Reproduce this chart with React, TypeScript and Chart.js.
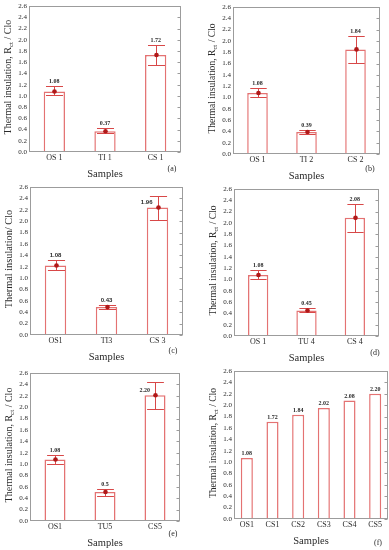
import React, { useEffect, useRef } from "react";
import { Chart, registerables } from "chart.js";
Chart.register(...registerables);

// ---------- data ----------
const yMax = 2.6;
const yStep = 0.2;

const catsA = ["OS 1", "TI 1", "CS 1"];
const valsA = [1.08, 0.37, 1.73];
const lowA = [1.01, 0.33, 1.55];
const highA = [1.17, 0.42, 1.91];
const textA = ["1.08", "0.37", "1.72"];

const catsB = ["OS 1", "TI 2", "CS 2"];
const valsB = [1.08, 0.39, 1.85];
const lowB = [1.01, 0.35, 1.61];
const highB = [1.16, 0.43, 2.09];
const textB = ["1.08", "0.39", "1.84"];

const catsC = ["OS1", "TI3", "CS 3"];
const valsC = [1.22, 0.49, 2.24];
const lowC = [1.14, 0.45, 2.02];
const highC = [1.32, 0.53, 2.44];
const textC = ["1.08", "0.43", "1.96"];

const catsD = ["OS 1", "TU 4", "CS 4"];
const valsD = [1.08, 0.45, 2.09];
const lowD = [1.0, 0.42, 1.84];
const highD = [1.16, 0.49, 2.33];
const textD = ["1.08", "0.45", "2.08"];

const catsE = ["OS1", "TU5", "CS5"];
const valsE = [1.08, 0.51, 2.21];
const lowE = [1.0, 0.44, 1.96];
const highE = [1.16, 0.57, 2.44];
const textE = ["1.08", "0.5", "2.20"];

const catsF = ["OS1", "CS1", "CS2", "CS3", "CS4", "CS5"];
const valsF = [1.07, 1.71, 1.83, 1.95, 2.08, 2.2];
const textF = ["1.08", "1.72", "1.84", "2.02", "2.08", "2.20"];

// ---------- styles ----------
const SERIF = "'Liberation Serif', 'DejaVu Serif', serif";
const SANS = "'Liberation Sans', Arial, sans-serif";
const BAR_EDGE = "#e47272";
const ERR = "#d84848";
const MARK = "#b01818";
const FRAME = "#9c9c9c";
const TXT = "#2a2a2a";

type Part = { t: string; sub?: boolean };
const titleR: Part[] = [{ t: "Thermal insulation, R" }, { t: "ct", sub: true }, { t: " / Clo" }];
const titleC: Part[] = [{ t: "Thermal insulation/ Clo" }];

type PanelCfg = {
  cats: string[];
  vals: number[];
  low?: number[];
  high?: number[];
  text: string[];
  canvas: [number, number, number, number];
  box: [number, number, number, number];
  title: Part[];
  titleSize: number;
  tag: string;
  tagOff: [number, number];
  labelFont: string;
  leftLabel: boolean[];
  barPct: number;
};

const panels: PanelCfg[] = [
  { cats: catsA, vals: valsA, low: lowA, high: highA, text: textA, canvas: [0, 0, 195, 186], box: [29, 6, 181, 152], title: titleR, titleSize: 10, tag: "(a)", tagOff: [-9, 17], labelFont: SERIF, leftLabel: [false, false, false], barPct: 0.42 },
  { cats: catsB, vals: valsB, low: lowB, high: highB, text: textB, canvas: [195, 0, 194, 186], box: [233, 7, 380, 154], title: titleR, titleSize: 9.6, tag: "(b)", tagOff: [-10, 15], labelFont: SERIF, leftLabel: [false, false, false], barPct: 0.42 },
  { cats: catsC, vals: valsC, low: lowC, high: highC, text: textC, canvas: [0, 180, 195, 188], box: [30, 187, 183, 335], title: titleC, titleSize: 10.3, tag: "(c)", tagOff: [-10, 16], labelFont: SANS, leftLabel: [false, false, true], barPct: 0.42 },
  { cats: catsD, vals: valsD, low: lowD, high: highD, text: textD, canvas: [195, 180, 194, 188], box: [234, 189, 379, 336], title: titleR, titleSize: 9.6, tag: "(d)", tagOff: [-4, 17], labelFont: SERIF, leftLabel: [false, false, false], barPct: 0.42 },
  { cats: catsE, vals: valsE, low: lowE, high: highE, text: textE, canvas: [0, 360, 195, 190], box: [30, 373, 180, 521], title: titleR, titleSize: 10, tag: "(e)", tagOff: [-7, 13], labelFont: SERIF, leftLabel: [false, false, true], barPct: 0.42 },
  { cats: catsF, vals: valsF, text: textF, canvas: [195, 360, 194, 190], box: [234, 371, 388, 519], title: titleR, titleSize: 9.6, tag: "(f)", tagOff: [-10, 24], labelFont: SERIF, leftLabel: [false, false, false, false, false, false], barPct: 0.47 },
];

function drawParts(ctx: CanvasRenderingContext2D, parts: Part[], size: number) {
  const subSize = size * 0.7;
  let total = 0;
  const widths = parts.map((p) => {
    ctx.font = `${p.sub ? subSize : size}px ${SERIF}`;
    const w = ctx.measureText(p.t).width;
    total += w;
    return w;
  });
  let x = -total / 2;
  ctx.textAlign = "left";
  ctx.textBaseline = "middle";
  parts.forEach((p, i) => {
    ctx.font = `${p.sub ? subSize : size}px ${SERIF}`;
    ctx.fillText(p.t, x, p.sub ? size * 0.3 : 0);
    x += widths[i];
  });
}

function makeDecor(p: PanelCfg) {
  return {
    id: "decor",
    afterDatasetsDraw(chart: any) {
      const ctx: CanvasRenderingContext2D = chart.ctx;
      const ys = chart.scales.y;
      const meta = chart.getDatasetMeta(0);
      ctx.save();
      meta.data.forEach((el: any, i: number) => {
        const x = Math.round(el.x) + 0.5;
        const w = el.width;
        let topVal = p.vals[i];
        if (p.low && p.high) {
          const yl = Math.round(ys.getPixelForValue(p.low[i])) + 0.5;
          const yh = Math.round(ys.getPixelForValue(p.high[i])) + 0.5;
          ctx.strokeStyle = ERR;
          ctx.lineWidth = 1;
          ctx.beginPath();
          ctx.moveTo(x, yl);
          ctx.lineTo(x, yh);
          ctx.moveTo(x - w * 0.4, yl);
          ctx.lineTo(x + w * 0.4, yl);
          ctx.moveTo(x - w * 0.4, yh);
          ctx.lineTo(x + w * 0.4, yh);
          ctx.stroke();
          ctx.fillStyle = MARK;
          ctx.beginPath();
          ctx.arc(x, ys.getPixelForValue(p.vals[i]), 2.3, 0, Math.PI * 2);
          ctx.fill();
          topVal = p.high[i];
        }
        ctx.fillStyle = TXT;
        ctx.font = `bold 6px ${p.labelFont}`;
        ctx.textBaseline = "alphabetic";
        if (p.leftLabel[i]) {
          ctx.textAlign = "right";
          ctx.fillText(p.text[i], el.x - 5, ys.getPixelForValue(p.vals[i]) - 3);
        } else {
          ctx.textAlign = "center";
          ctx.fillText(p.text[i], el.x, ys.getPixelForValue(topVal) - 3);
        }
      });
      ctx.restore();
    },
    afterDraw(chart: any) {
      const ctx: CanvasRenderingContext2D = chart.ctx;
      const { left, right, top, bottom } = chart.chartArea;
      const ys = chart.scales.y;
      ctx.save();
      ctx.strokeStyle = FRAME;
      ctx.lineWidth = 1;
      const l = Math.round(left) + 0.5;
      const r = Math.round(right) - 0.5;
      const t = Math.round(top) + 0.5;
      const b = Math.round(bottom) - 0.5;
      ctx.strokeRect(l, t, r - l, b - t);
      ctx.beginPath();
      ys.ticks.forEach((tk: any) => {
        const yy = Math.round(ys.getPixelForValue(tk.value)) + 0.5;
        ctx.moveTo(r - 3, yy);
        ctx.lineTo(r, yy);
      });
      ctx.stroke();
      // y title
      ctx.fillStyle = TXT;
      ctx.save();
      ctx.translate(left - 21, (top + bottom) / 2 - 2);
      ctx.rotate(-Math.PI / 2);
      drawParts(ctx, p.title, p.titleSize);
      ctx.restore();
      // x title
      ctx.font = `10.5px ${SERIF}`;
      ctx.textAlign = "center";
      ctx.textBaseline = "middle";
      ctx.fillText("Samples", (left + right) / 2, bottom + 22);
      // tag
      ctx.font = `8px ${SERIF}`;
      ctx.fillText(p.tag, right + p.tagOff[0], bottom + p.tagOff[1]);
      ctx.restore();
    },
  };
}

function Panel({ p }: { p: PanelCfg }) {
  const ref = useRef<HTMLCanvasElement>(null);
  const [cx, cy, cw, ch] = p.canvas;
  useEffect(() => {
    const [bl, bt, br, bb] = p.box;
    const chart = new Chart(ref.current as HTMLCanvasElement, {
      type: "bar",
      data: {
        labels: p.cats,
        datasets: [
          {
            data: p.vals,
            backgroundColor: "#ffffff",
            borderColor: BAR_EDGE,
            borderWidth: 1.5,
            barPercentage: p.barPct,
            categoryPercentage: 1,
          },
        ],
      },
      options: {
        animation: false,
        responsive: false,
        devicePixelRatio: 1,
        layout: { padding: { top: bt - cy, right: cx + cw - br, bottom: 0, left: 0 } },
        plugins: { legend: { display: false }, tooltip: { enabled: false } },
        scales: {
          x: {
            offset: true,
            grid: { display: false, drawTicks: false },
            border: { display: false },
            ticks: { font: { family: SERIF, size: 8 }, color: TXT, padding: 1, maxRotation: 0, autoSkip: false },
            afterFit: (s: any) => {
              s.height = cy + ch - bb;
            },
          },
          y: {
            min: 0,
            max: yMax,
            grid: { display: false, drawTicks: false },
            border: { display: false },
            ticks: {
              stepSize: yStep,
              autoSkip: false,
              font: { family: SERIF, size: 7 },
              color: TXT,
              padding: 2,
              callback: (v: any) => Number(v).toFixed(1),
            },
            afterFit: (s: any) => {
              s.width = bl - cx;
            },
          },
        },
      } as any,
      plugins: [makeDecor(p)],
    });
    return () => chart.destroy();
  }, []);
  return (
    <canvas
      ref={ref}
      width={cw}
      height={ch}
      style={{ position: "absolute", left: cx, top: cy, width: cw, height: ch }}
    />
  );
}

export default function App() {
  return (
    <div style={{ position: "fixed", left: 0, top: 0, width: 389, height: 550, background: "#fff" }}>
      {panels.map((p, i) => (
        <Panel key={i} p={p} />
      ))}
    </div>
  );
}
